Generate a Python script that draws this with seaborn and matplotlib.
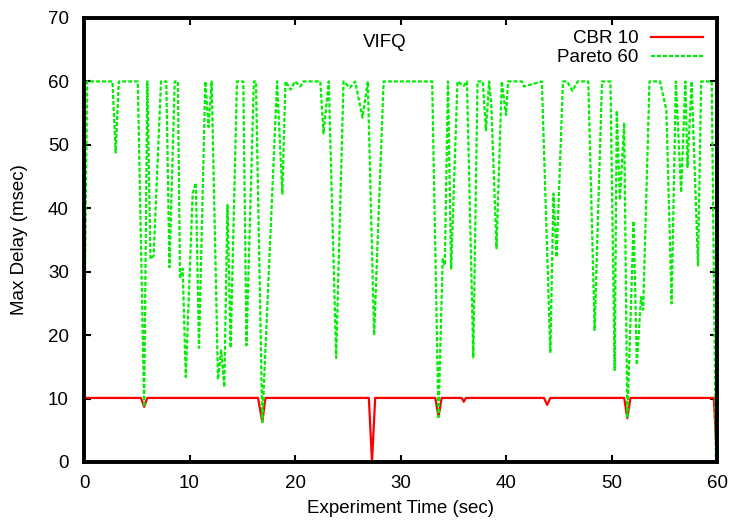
import matplotlib
matplotlib.use("Agg")
import matplotlib.pyplot as plt
import seaborn as sns
import pandas as pd

cbr_t = [0, 5.4, 5.7, 6.0, 16.5, 16.9, 17.2, 27.0, 27.3, 27.6, 33.3, 33.6, 33.9,
         35.8, 36.0, 36.2, 43.6, 43.9, 44.2, 51.2, 51.5, 51.8, 59.7, 60.0]
cbr_v = [10.1, 10.1, 8.7, 10.1, 10.1, 6.3, 10.1, 10.1, 0, 10.1, 10.1, 7.1, 10.1,
         10.1, 9.5, 10.1, 10.1, 9.0, 10.1, 10.1, 6.9, 10.1, 10.1, 0]

par_t = [0.0, 0.3, 2.7, 3.0, 3.3, 5.1, 5.7, 6.0, 6.3, 6.6, 7.3, 7.8, 8.1, 8.6, 8.9,
         9.1, 9.35, 9.65, 10.3, 10.6, 10.9, 11.5, 11.8, 12.1, 12.7, 13.0, 13.3,
         13.6, 13.9, 14.5, 15.1, 15.4, 16.1, 16.3, 16.9, 18.3, 18.8, 19.1, 19.6,
         20.0, 20.5, 20.8, 22.4, 22.7, 23.2, 23.9, 24.6, 25.2, 25.7, 26.4, 26.9,
         27.5, 28.4, 33.0, 33.6, 34.0, 34.2, 34.5, 34.8, 35.4, 36.0, 36.3, 36.9,
         37.3, 37.8, 38.1, 38.4, 38.6, 39.1, 39.6, 40.0, 40.2, 41.5, 41.7, 43.4,
         44.2, 44.5, 44.8, 45.4, 45.8, 46.3, 46.8, 47.8, 48.4, 49.1, 49.9, 50.3,
         50.5, 50.8, 51.2, 51.5, 52.1, 52.4, 52.8, 53.0, 53.6, 54.6, 55.2, 55.7,
         56.1, 56.6, 57.0, 57.2, 57.6, 58.2, 58.5, 59.5, 59.9]
par_v = [16, 60, 60, 48.8, 60, 60, 8.7, 60, 32, 32.5, 60, 60, 30.7, 60, 60,
         29, 30.5, 13.4, 42.4, 44, 18, 60, 52.8, 60, 13, 17.6, 11.8,
         40.5, 18, 60, 60, 18.4, 60, 60, 6.3, 60, 42.3, 60, 58.7,
         60, 59.2, 60, 60, 51.8, 60, 16.4, 60, 59.0, 60, 54.3, 60,
         20, 60, 60, 7.1, 32, 31, 60, 30.5, 60, 59.3, 60, 16.5,
         60, 60, 52.3, 60, 56.5, 33.7, 60, 54.7, 60, 60, 59.2, 60,
         17.2, 42.3, 32.3, 60, 60, 58.5, 60, 60, 20.8, 60, 60, 14.5,
         55.4, 41.3, 53.5, 6.9, 38, 15.3, 26, 24, 60, 60, 55.5, 25,
         60, 42.5, 60, 46.5, 60, 31, 60, 60, 0]

x_ticks = [0, 10, 20, 30, 40, 50, 60]
y_ticks = [0, 10, 20, 30, 40, 50, 60, 70]

plt.rcParams['font.family'] = ['Liberation Sans', 'DejaVu Sans']
plt.rcParams['font.size'] = 13.5

fig = plt.figure(figsize=(7.39, 5.20), dpi=100)
ax = fig.add_axes([84 / 739, 1 - 462 / 520, (717 - 84) / 739, (462 - 18) / 520])

df_cbr = pd.DataFrame({"t": cbr_t, "v": cbr_v})
df_par = pd.DataFrame({"t": par_t, "v": par_v})

sns.lineplot(data=df_cbr, x="t", y="v", ax=ax, color="#ff0000", linewidth=1.6,
             label="CBR 10", estimator=None, sort=False)
sns.lineplot(data=df_par, x="t", y="v", ax=ax, color="#00ee00", linewidth=1.6,
             label="Pareto 60", estimator=None, sort=False)
ax.lines[1].set_dashes([1.8, 0.9])

ax.set_xlim(0, 60)
ax.set_ylim(0, 70)
ax.set_xticks(x_ticks)
ax.set_yticks(y_ticks)
ax.set_xlabel("Experiment Time (sec)", labelpad=6)
ax.set_ylabel("Max Delay (msec)", labelpad=14)
ax.tick_params(direction="in", top=True, right=True, length=5, width=1.5, pad=9)
ax.tick_params(axis="y", pad=11)
for s in ax.spines.values():
    s.set_linewidth(2.8)

ax.text(0.475, 0.945, "VIFQ", transform=ax.transAxes, ha="center", va="center")

leg = ax.legend(loc="upper right", frameon=False, markerfirst=False,
                handlelength=2.8, handletextpad=0.65, borderaxespad=0.0,
                labelspacing=0.1, bbox_to_anchor=(0.99, 0.99))
for t in leg.get_texts():
    t.set_ha("right")
for h in leg.get_lines():
    h.set_linewidth(1.6)
leg.get_lines()[1].set_dashes([1.8, 0.9])

fig.savefig("out.png", dpi=100)
